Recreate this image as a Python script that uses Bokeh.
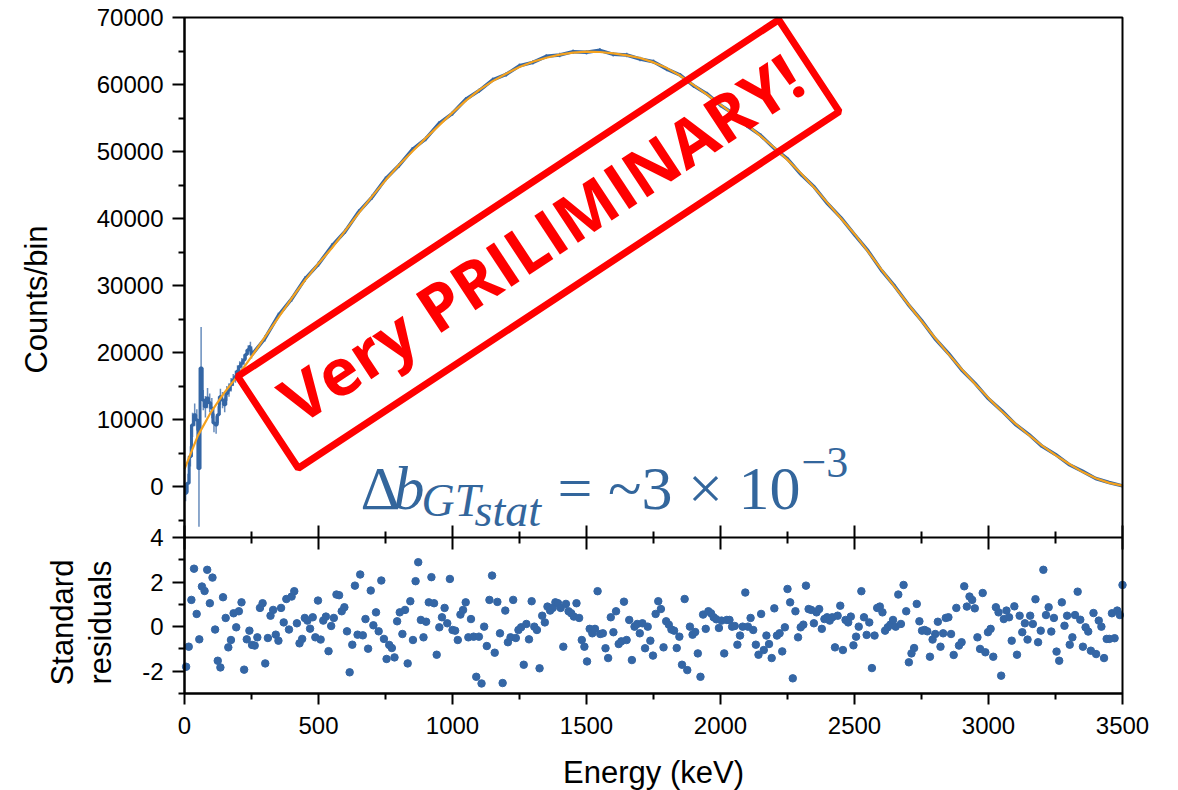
import math
from bokeh.plotting import figure
from bokeh.models import Range1d, LinearAxis, FixedTicker, Label, BoxAnnotation
from bokeh.embed import file_html
from bokeh.resources import INLINE

# ---------------- data ----------------
# fitted spectrum (keV, counts/bin)
fit_energy = [0, 50, 100, 150, 200, 250, 300, 350, 400, 450, 500, 550, 600, 650, 700, 750,
              800, 850, 900, 950, 1000, 1050, 1100, 1150, 1200, 1250, 1300, 1350, 1400, 1450,
              1500, 1550, 1600, 1650, 1700, 1750, 1800, 1850, 1900, 1950, 2000, 2050, 2100,
              2150, 2200, 2250, 2300, 2350, 2400, 2450, 2500, 2550, 2600, 2650, 2700, 2750,
              2800, 2850, 2900, 2950, 3000, 3050, 3100, 3150, 3200, 3250, 3300, 3350, 3400,
              3450, 3500]
fit_counts = [2600, 7600, 11200, 14100, 16600, 19400, 22300, 25200, 28100, 30800, 33300, 35600,
              38200, 40800, 43300, 45700, 48000, 50000, 52000, 53900, 55800, 57600, 59200, 60500,
              61600, 62600, 63400, 64000, 64450, 64750, 64900, 64850, 64650, 64350, 63950, 63300,
              62450, 61300, 59900, 58500, 57000, 55480, 53950, 52300, 50600, 48750, 46750, 44600,
              42300, 40000, 37700, 35100, 32400, 29800, 27250, 24700, 22200, 19800, 17500, 15300,
              13200, 11200, 9400, 7700, 6100, 4700, 3400, 2200, 1250, 550, 150]

# measured spectrum, low-energy part (fine bins, large errors)
low_energy = [4, 13, 22, 30, 38, 46, 54, 62, 70, 78, 86, 94, 102, 110, 118, 126, 134, 142, 150,
              158, 166, 174, 182, 190, 198, 206, 214, 222, 230, 238, 246]
low_counts = [-1000, 500, 4500, 9200, 10700, 9950, 2700, 17700, 12900, 11900, 13200, 12500,
              11700, 9500, 9200, 10700, 13400, 12900, 12200, 13900, 14400, 15200, 15900, 16400,
              17200, 17900, 18400, 18900, 19700, 20400, 20900]
low_err_down = [1200, 1400, 1500, 1800, 1700, 1600, 8700, 2000, 1500, 1600, 1500, 1400, 1500,
                1400, 1300, 1300, 1200, 1200, 1100, 1100, 1000, 1000, 900, 900, 900, 800, 800,
                800, 700, 700, 700]
low_err_up = [1200, 1400, 1500, 1800, 1700, 1600, 2000, 6100, 1500, 1600, 1500, 1400, 1500,
              1400, 1300, 1300, 1200, 1200, 1100, 1100, 1000, 1000, 900, 900, 900, 800, 800,
              800, 700, 700, 700]

# measured spectrum, rest of the range
high_energy = [250, 300, 350, 400, 450, 500, 550, 600, 650, 700, 750, 800, 850, 900, 950, 1000,
               1050, 1100, 1150, 1200, 1250, 1300, 1350, 1400, 1450, 1500, 1550, 1600, 1650,
               1700, 1750, 1800, 1850, 1900, 1950, 2000, 2050, 2100, 2150, 2200, 2250, 2300,
               2350, 2400, 2450, 2500, 2550, 2600, 2650, 2700, 2750, 2800, 2850, 2900, 2950,
               3000, 3050, 3100, 3150, 3200, 3250, 3300, 3350, 3400, 3450, 3500]
high_counts = [19600, 22100, 25500, 28000, 31000, 33200, 35900, 38100, 41000, 43200, 45900, 47900,
               50300, 51900, 54200, 55700, 57800, 59100, 60700, 61500, 62800, 63300, 64200, 64400,
               64900, 64800, 65100, 64500, 64400, 63800, 63400, 62300, 61400, 59800, 58600, 56900,
               55600, 53800, 52400, 50500, 48900, 46600, 44700, 42200, 40100, 37600, 35200, 32300,
               29900, 27200, 24800, 22100, 19900, 17400, 15400, 13100, 11300, 9300, 7800, 6000,
               4800, 3300, 2300, 1200, 600, 100]
high_err = [500, 450, 450, 420, 420, 400, 400, 380, 380, 380, 360, 360, 360, 350, 350, 350, 340,
            340, 340, 330, 330, 330, 330, 330, 330, 330, 330, 330, 330, 330, 330, 330, 320, 320,
            320, 310, 310, 300, 300, 300, 290, 280, 280, 270, 260, 250, 250, 240, 230, 220, 210,
            200, 190, 180, 170, 160, 150, 140, 130, 120, 110, 100, 90, 80, 60, 40]

# standardised residuals (one point per bin, left to right)
residuals = [
    -1.8, -0.9, 1.2, 2.6, 0.57, -0.57, 1.8, 1.6, 2.55, 1.05, 2.2, -0.13, -1.53, -1.83, 1.32,
    0.39, -0.93, -0.6, 0.6, -0.03, 0.69, 1.09, -1.93, -0.57, -0.18, -0.82, -0.85, -0.48, 0.84,
    1.05, -1.65, -0.51, 0.49, 0.75, -0.36, -0.63, 0.84, 0.19, 1.24, -0.13, 1.35, 1.59, 0.15,
    -0.75, -0.55, 0.39, 0.27, -0.09, 0.42, -0.48, 1.17, -0.58, 0.27, 0.45, -1.1, 0.03, 0.39,
    1.44, 1.41, 0.69, 0.87, -0.21, -2.05, -0.81, 1.84, -0.36, 2.34, -0.39, 0.34, -0.99, 1.62,
    0.06, 0.64, -0.21, 2.07, -0.55, -1.45, -0.82, -0.96, -1.38, 0.24,
    0.64, -0.33, 0.75, -1.65, 1.14, -0.6, 2.04, 2.89, 0.3, -0.48, 0.22, 1.09, 2.22, 1.05, -1.26,
    -0.03, 0.42, 0.84, 0.15, 2.14, -0.15, -0.18, -0.6, 0.54, 0.75, 1.09, -0.48, 0.34, -0.45,
    -2.25, -0.45, -2.55, 0.0, -0.87, 1.2, 2.29, -1.17, 1.11, -0.3, -2.53, 0.72, -0.7, -0.48, 1.2,
    -0.51, -0.15, -0.03, -1.71, 0.12, -0.57, 1.14, 0.0, -0.15, -1.87, 0.49, 0.19, 0.9, 0.72, 0.84,
    1.09, 1.05, 0.84, -0.9, 1.02, 0.69, 0.6, 0.45, 1.05, 0.39, -0.6, -0.9, -1.56, -0.1, -0.3, -0.1,
    1.59, -0.33, -0.3, -0.97, -1.41, 0.42, -0.25, 0.69, -0.78, -0.66, 1.12, -0.6, 0.3, -1.5, 0.0,
    0.12, -0.3, 0.15, -0.97, 0.0, -0.63, -1.3, 0.57, 1.14, 0.79, -0.93, 0.24, 0.09, -0.13, -0.18,
    -0.96, -0.45, -1.71, 1.24, -1.95, 0.0, -0.36, -0.24, -1.2, -2.25, 0.54, -0.1, 0.69, 0.6, 0.42,
    0.33, -0.06, 0.27, -1.2, 0.3, 0.3, 0.0, 0.03, -0.81, -0.4, 0.0, 1.53, 0.0, 0.39, -0.15, -0.81,
    -1.26, 0.57, -1.05, -0.4, -0.78, -1.41, 0.82, -0.4, -0.3, -1.11, -0.03, 1.69,
    1.09, -2.32, 0.69, -0.48, -0.03, 0.09, 1.84, 0.79, 0.75, 0.15, 0.64, 0.79, -0.1, 0.34, 0.42,
    0.27, 0.42, -0.93, 0.49, 0.94, -1.05, 0.3, 0.19, 0.45, -0.84, -0.45, 0.0, 1.59, 0.42, -0.37,
    0.19, -1.86, -0.4, 0.84, 0.9, 0.64, -0.18, -0.03, 0.09, 0.3, 0.0, 1.44, 0.12, 1.87, 0.69,
    -1.6, -1.2, -0.96, 1.02, 0.24, -0.18, -0.15, -0.21, -1.35, -0.58, -0.33, 0.22, -0.9, -0.3,
    0.39, 0.42, -0.33, -1.27, 0.84, -0.85, -0.7, 1.81, 0.9, 1.35, 1.2, 0.82, -0.48, -1.0, 1.51,
    -1.15, -0.25, -0.1, -1.35, 0.87, 0.64, -2.2, 0.34, 0.72, 0.42, -0.63, 0.91, -1.26, 0.49,
    -0.25, 0.15, -0.58, 0.49, 0.12, 1.23, -0.7, -0.18, 2.55, 0.52, 0.87, -0.22, 0.39, -1.12,
    -1.53, 1.09, 0.04, 0.49, -0.81, -0.48, 0.52, 1.57, 0.31, -0.9, -0.03, -0.22, -1.08, 0.61,
    -1.23, 0.27, 0.0, -1.41, -0.55, -0.55, 0.6, -0.52, 0.72, 0.52, 1.87,
]
res_first_keV = 6      # centre of first residual bin
res_last_keV = 3500    # centre of last residual bin

x_major = [0, 500, 1000, 1500, 2000, 2500, 3000, 3500]
x_minor = [250, 750, 1250, 1750, 2250, 2750, 3250]
count_major = [0, 10000, 20000, 30000, 40000, 50000, 60000, 70000]
count_minor = [-5000, 5000, 15000, 25000, 35000, 45000, 55000, 65000]
res_major = [-2, 0, 2, 4]
res_minor = [-3, -1, 1, 3]

# ---------------- layout ----------------
W, H = 1178, 790
FL, FT, FR, FB = 184, 17, 1122, 693      # plot-box edges in px
X0, X1 = 0, 3500
Y_TOP = 70000
Y_SPLIT = -7600          # counts at the boundary between the two panels
K = 3326                 # counts per residual unit (vertical scale of lower panel)
R_TOP, R_BOT = 4, -3
Y_BOT = Y_SPLIT - (R_TOP - R_BOT) * K
CPP = (Y_TOP - Y_BOT) / (FB - FT)        # counts per pixel
KPP = (X1 - X0) / (FR - FL)              # keV per pixel


def dx(px):
    return X0 + (px - FL) * KPP


def dy(py):
    return Y_TOP - (py - FT) * CPP


def dr(py):
    return R_BOT + (FB - py) * CPP / K


def res_to_counts(r):
    return Y_SPLIT + (r - R_TOP) * K


BLUE = "#3466A5"
ORANGE = "#F5A21E"
RED = "#FF0000"
TXT_BLUE = "#33669C"
FONT = "Liberation Sans"

# the frame covers the whole canvas; axes sit at fixed locations
p = figure(width=W, height=H, x_range=Range1d(dx(0), dx(W)), y_range=Range1d(dy(H), dy(0)),
           output_backend="svg", toolbar_location=None, x_axis_type=None, y_axis_type=None,
           min_border=0, min_border_left=0, min_border_right=0, min_border_top=0,
           min_border_bottom=0)
p.title.visible = False
p.extra_y_ranges = {"res": Range1d(dr(H), dr(0))}
p.xgrid.visible = False
p.ygrid.visible = False
p.outline_line_color = None
p.background_fill_color = "white"
p.border_fill_color = "white"


def style_axis(ax, tick_out, minor_out, tick_in=0, minor_in=0):
    ax.major_tick_out = tick_out
    ax.major_tick_in = tick_in
    ax.minor_tick_out = minor_out
    ax.minor_tick_in = minor_in
    ax.axis_line_width = 2
    ax.major_tick_line_width = 2
    ax.minor_tick_line_width = 2
    ax.major_label_text_font = FONT
    ax.major_label_text_font_size = "24px"
    ax.major_label_text_color = "black"


# bottom axis (energy)
xa = LinearAxis(ticker=FixedTicker(ticks=x_major, minor_ticks=x_minor),
                fixed_location=Y_BOT, bounds=(X0, X1))
style_axis(xa, 11, 6)
xa.major_label_standoff = 12
p.add_layout(xa, "below")

# axis at the boundary between the panels (ticks crossing both ways, no labels)
xm = LinearAxis(ticker=FixedTicker(ticks=x_major, minor_ticks=x_minor),
                fixed_location=Y_SPLIT, bounds=(X0, X1),
                major_label_overrides={t: "" for t in x_major})
style_axis(xm, 12, 6, 12, 6)
p.add_layout(xm, "below")

# left axis: counts ticks (upper panel) and residual ticks (lower panel)
left_major = count_major + [res_to_counts(r) for r in res_major]
left_minor = count_minor + [res_to_counts(r) for r in res_minor]
overrides = {v: str(v) for v in count_major}
for r in res_major:
    overrides[res_to_counts(r)] = str(r)
ya = LinearAxis(ticker=FixedTicker(ticks=left_major, minor_ticks=left_minor),
                major_label_overrides=overrides, fixed_location=X0, bounds=(Y_BOT, Y_TOP))
style_axis(ya, 12, 6)
ya.major_label_standoff = 9
p.add_layout(ya, "left")

# plot box
p.add_layout(BoxAnnotation(left=X0, right=X1, bottom=Y_BOT, top=Y_TOP, fill_alpha=0,
                           line_color="black", line_alpha=1.0, line_width=2))

# measured spectrum
p.segment(x0=low_energy, x1=low_energy,
          y0=[c - e for c, e in zip(low_counts, low_err_down)],
          y1=[c + e for c, e in zip(low_counts, low_err_up)],
          line_color=BLUE, line_width=1.5, line_alpha=0.75)
p.step(x=low_energy, y=low_counts, mode="center", line_color=BLUE, line_width=3)
p.segment(x0=high_energy, x1=high_energy,
          y0=[c - e for c, e in zip(high_counts, high_err)],
          y1=[c + e for c, e in zip(high_counts, high_err)],
          line_color=BLUE, line_width=1.5, line_alpha=0.8)
p.line(x=[low_energy[-1]] + high_energy, y=[low_counts[-1]] + high_counts,
       line_color=BLUE, line_width=3.5)

# fit
p.line(x=fit_energy, y=fit_counts, line_color=ORANGE, line_width=2.2)

# residuals
n = len(residuals)
step = (res_last_keV - res_first_keV) / (n - 1)
res_energy = [res_first_keV + i * step for i in range(n)]
p.scatter(x=res_energy, y=residuals, y_range_name="res", size=7.5,
          fill_color=BLUE, line_color=BLUE)

# axis titles
title_style = dict(text_font=FONT, text_font_size="31px", text_color="black",
                   text_align="center", text_baseline="middle")
p.add_layout(Label(x=dx(36), y=dy(299), text="Counts/bin", angle=math.pi / 2, **title_style))
p.add_layout(Label(x=dx(62), y=dy(622), text="Standard", angle=math.pi / 2, **title_style))
p.add_layout(Label(x=dx(100), y=dy(622), text="residuals", angle=math.pi / 2, **title_style))
p.add_layout(Label(x=dx(653), y=dy(772), text="Energy (keV)", **title_style))

# "Very PRILIMINARY!" stamp
ang = math.radians(33.4)
p.rect(x=[dx(538)], y=[dy(243.5)], width=648, height=110, width_units="screen",
       height_units="screen", angle=ang, fill_color=None, line_color=RED, line_width=7)
p.add_layout(Label(x=dx(540), y=dy(237), text="Very PRILIMINARY!", angle=ang,
                   text_font="Open Sans", text_font_style="bold", text_font_size="65px",
                   text_color=RED, text_align="center", text_baseline="middle"))

# formula  Δb_{GT_stat} = ~3 × 10^-3
SERIF = "Liberation Serif"
pieces = [
    ("Δ", 360, 487, "62px", "normal"),
    ("b", 393, 487, "62px", "italic"),
    ("GT", 421, 500, "46px", "italic"),
    ("stat", 474, 510, "46px", "italic"),
    ("= ~3 × 10", 557, 487, "62px", "normal"),
    ("−3", 801, 462, "44px", "normal"),
]
for txt, px, py, size, style in pieces:
    p.add_layout(Label(x=dx(px), y=dy(py), text=txt, text_font=SERIF, text_font_size=size,
                       text_font_style=style, text_color=TXT_BLUE, text_align="left",
                       text_baseline="alphabetic"))

open("out.html", "w").write(file_html(p, INLINE))
